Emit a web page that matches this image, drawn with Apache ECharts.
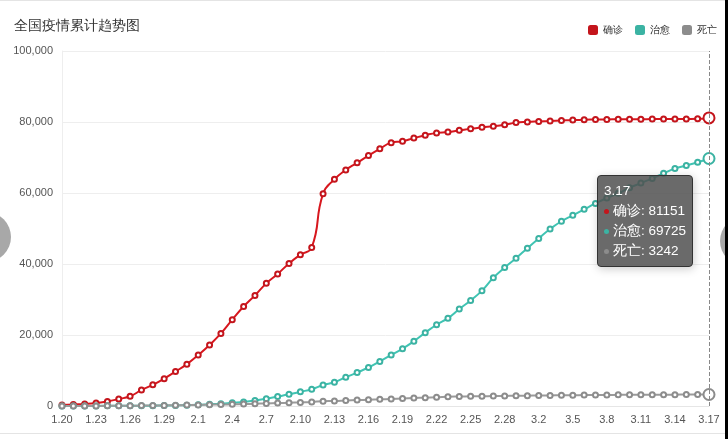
<!DOCTYPE html>
<html>
<head>
<meta charset="utf-8">
<title>全国疫情累计趋势图</title>
<script src="https://cdn.jsdelivr.net/npm/echarts@6/dist/echarts.min.js"></script>
<style>
  html, body { margin: 0; padding: 0; background: #fff; overflow: hidden; }
  #chart { width: 728px; height: 439px; }
  #edge { position: absolute; left: 725px; top: 0; width: 3px; height: 439px; background: #000; z-index: 10; }
</style>
</head>
<body>
<div id="chart"></div>
<div id="edge"></div>
<script>
  // 1.20 - 3.17, one point per day
  const dates = [
    '1.20', '1.21', '1.22', '1.23', '1.24', '1.25', '1.26', '1.27', '1.28', '1.29', '1.30', '1.31',
    '2.1', '2.2', '2.3', '2.4', '2.5', '2.6', '2.7', '2.8', '2.9', '2.10', '2.11', '2.12', '2.13', '2.14',
    '2.15', '2.16', '2.17', '2.18', '2.19', '2.20', '2.21', '2.22', '2.23', '2.24', '2.25', '2.26', '2.27',
    '2.28', '2.29', '3.1', '3.2', '3.3', '3.4', '3.5', '3.6', '3.7', '3.8', '3.9', '3.10', '3.11', '3.12',
    '3.13', '3.14', '3.15', '3.16', '3.17'
  ]
  const confirmed = [
    291, 440, 571, 830, 1287, 1975, 2744, 4515, 5974, 7711, 9692, 11791,
    14380, 17205, 20438, 24324, 28018, 31161, 34546, 37198, 40171, 42638, 44653, 59804, 63851, 66492,
    68500, 70548, 72436, 74185, 74576, 75465, 76288, 76936, 77150, 77658, 78064, 78497, 78824,
    79251, 79824, 80026, 80151, 80270, 80409, 80552, 80651, 80695, 80735, 80754, 80778, 80793, 80813,
    80824, 80844, 80860, 80881, 81151
  ]
  const cured = [
    25, 28, 28, 34, 38, 49, 51, 60, 103, 124, 171, 243,
    328, 475, 632, 892, 1153, 1540, 2050, 2649, 3281, 3996, 4740, 5911, 6723, 8096,
    9419, 10844, 12552, 14376, 16155, 18264, 20659, 22888, 24734, 27323, 29745, 32495, 36117,
    39002, 41625, 44462, 47204, 49856, 52045, 53726, 55404, 57065, 58600, 59897, 61475, 62793, 64111,
    65541, 66911, 67749, 68679, 69725
  ]
  const dead = [
    6, 9, 17, 25, 41, 56, 80, 106, 132, 170, 213, 259,
    304, 361, 425, 490, 563, 636, 722, 811, 908, 1016, 1113, 1367, 1380, 1523,
    1665, 1770, 1868, 2004, 2118, 2236, 2345, 2442, 2592, 2663, 2715, 2744, 2788,
    2835, 2870, 2912, 2943, 2981, 3012, 3042, 3070, 3097, 3119, 3136, 3158, 3169, 3176,
    3189, 3199, 3213, 3226, 3242
  ]

  const chart = echarts.init(document.getElementById('chart'))

  function lineSeries(name, color, data) {
    return {
      name: name,
      type: 'line',
      smooth: true,
      symbol: 'emptyCircle',
      symbolSize: 5,
      showAllSymbol: true,
      lineStyle: { width: 2, color: color },
      itemStyle: { color: color, borderWidth: 1 },
      emphasis: { scale: 2.2 },
      data: data
    }
  }

  chart.setOption({
    animation: false,
    title: {
      text: '全国疫情累计趋势图',
      left: 9,
      top: 14,
      textStyle: { fontSize: 14, fontWeight: 'normal', color: '#333' }
    },
    legend: {
      right: 6,
      top: 20,
      itemWidth: 10,
      itemHeight: 10,
      itemGap: 12,
      icon: 'roundRect',
      textStyle: { fontSize: 10, color: '#333' },
      data: ['确诊', '治愈', '死亡']
    },
    tooltip: {
      trigger: 'axis',
      backgroundColor: 'rgba(80,80,80,0.85)',
      borderColor: '#333',
      borderWidth: 1,
      padding: [5, 6],
      textStyle: { color: '#fff', fontSize: 13 },
      axisPointer: {
        type: 'line',
        lineStyle: { color: '#888', type: 'dashed', width: 1 }
      },
      position: [597, 175],
      formatter: function (params) {
        let s = '<div style="line-height:20px;font-size:13.5px">' + params[0].name
        params.forEach(function (p) {
          s += '<br/><span style="display:inline-block;width:5px;height:5px;border-radius:50%;margin-right:4px;vertical-align:middle;background:' +
            p.color + '"></span>' + p.seriesName + ': ' + p.value
        })
        return s + '</div>'
      }
    },
    grid: {
      left: 62,
      right: 19,
      top: 51,
      bottom: 33
    },
    xAxis: {
      type: 'category',
      boundaryGap: false,
      data: dates,
      axisLine: { lineStyle: { color: '#e6e6e6' } },
      axisTick: { show: false },
      axisLabel: { interval: 2, color: '#555', fontSize: 11, margin: 8 }
    },
    yAxis: {
      type: 'value',
      min: 0,
      max: 100000,
      interval: 20000,
      axisLine: { show: true, lineStyle: { color: '#eee' } },
      axisTick: { show: false },
      splitLine: { lineStyle: { color: '#eee' } },
      axisLabel: {
        color: '#555',
        fontSize: 11,
        margin: 9,
        formatter: function (v) { return v.toLocaleString('en-US') }
      }
    },
    series: [
      lineSeries('确诊', '#c4151c', confirmed),
      lineSeries('治愈', '#3bb3a3', cured),
      lineSeries('死亡', '#8c8c8c', dead)
    ],
    graphic: [
      { type: 'rect', left: 0, top: 0, shape: { width: 728, height: 1 }, style: { fill: '#e4e4e4' }, silent: true },
      { type: 'rect', left: 0, top: 433, shape: { width: 728, height: 1 }, style: { fill: '#e4e4e4' }, silent: true },
      { type: 'circle', left: -39, top: 212, shape: { r: 25 }, style: { fill: '#a8a8a8' }, silent: true, z: 100 },
      { type: 'circle', left: 720, top: 216, shape: { r: 25 }, style: { fill: '#a8a8a8' }, silent: true, z: 100 }
    ]
  })

  chart.dispatchAction({ type: 'showTip', seriesIndex: 0, dataIndex: dates.length - 1 })
</script>
</body>
</html>
